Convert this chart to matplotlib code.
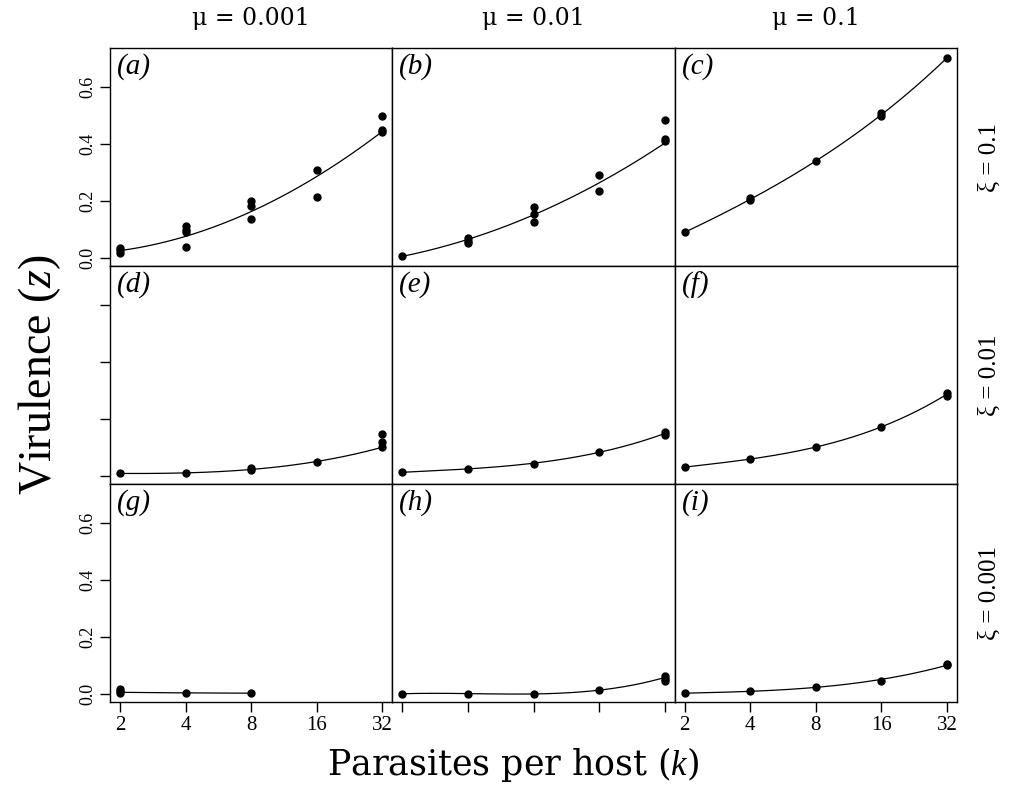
import matplotlib
matplotlib.use('Agg')
import matplotlib.pyplot as plt
import numpy as np

# parasites per host
k_vals = [2, 4, 8, 16, 32]

a_k = [2, 2, 2, 4, 4, 4, 4, 8, 8, 8, 16, 16, 32, 32, 32]
a_z = [0.035, 0.028, 0.018, 0.112, 0.098, 0.089, 0.036, 0.200, 0.180, 0.137, 0.308, 0.213, 0.499, 0.447, 0.441]
a_fit = [0.025, 0.075, 0.162, 0.285, 0.443]

b_k = [2, 4, 4, 4, 8, 8, 8, 16, 16, 32, 32, 32]
b_z = [0.005, 0.069, 0.060, 0.052, 0.178, 0.154, 0.125, 0.289, 0.233, 0.484, 0.416, 0.408]
b_fit = [0.005, 0.064, 0.151, 0.262, 0.402]

c_k = [2, 4, 4, 8, 16, 16, 32]
c_z = [0.089, 0.209, 0.204, 0.338, 0.508, 0.498, 0.701]
c_fit = [0.089, 0.206, 0.338, 0.503, 0.701]

d_k = [2, 4, 8, 8, 16, 32, 32, 32]
d_z = [0.008, 0.011, 0.027, 0.019, 0.048, 0.146, 0.120, 0.100]
d_fit = [0.008, 0.010, 0.022, 0.050, 0.100]

e_k = [2, 4, 8, 16, 32, 32]
e_z = [0.012, 0.024, 0.042, 0.082, 0.152, 0.144]
e_fit = [0.012, 0.024, 0.044, 0.082, 0.148]

f_k = [2, 4, 8, 16, 32, 32]
f_z = [0.030, 0.059, 0.100, 0.170, 0.292, 0.281]
f_fit = [0.030, 0.059, 0.100, 0.172, 0.286]

g_k = [2, 2, 2, 4, 8]
g_z = [0.017, 0.008, 0.002, 0.003, 0.002]
g_fit = [0.005, 0.003, 0.002]

h_k = [2, 4, 8, 16, 32, 32, 32]
h_z = [0.0, 0.0, 0.0, 0.013, 0.061, 0.052, 0.046]
h_fit = [0.0, 0.0, 0.0, 0.012, 0.057]

i_k = [2, 4, 8, 16, 32, 32]
i_z = [0.002, 0.009, 0.023, 0.046, 0.104, 0.100]
i_fit = [0.002, 0.008, 0.023, 0.050, 0.100]

mu_labels = ['\u03bc = 0.001', '\u03bc = 0.01', '\u03bc = 0.1']
xi_labels = ['\u03be = 0.1', '\u03be = 0.01', '\u03be = 0.001']
y_ticks = [0.0, 0.2, 0.4, 0.6]

panels = [
    [('a', a_k, a_z, a_fit), ('b', b_k, b_z, b_fit), ('c', c_k, c_z, c_fit)],
    [('d', d_k, d_z, d_fit), ('e', e_k, e_z, e_fit), ('f', f_k, f_z, f_fit)],
    [('g', g_k, g_z, g_fit), ('h', h_k, h_z, h_fit), ('i', i_k, i_z, i_fit)],
]

plt.rcParams['font.family'] = 'serif'
plt.rcParams['font.serif'] = ['Liberation Serif', 'DejaVu Serif']
plt.rcParams['mathtext.fontset'] = 'custom'
plt.rcParams['mathtext.rm'] = 'Liberation Serif'
plt.rcParams['mathtext.it'] = 'Liberation Serif:italic'

W, H = 1021, 786
fig = plt.figure(figsize=(W / 100, H / 100), dpi=100)

left, right, top, bottom = 110, 957, 48, 702
cw = (right - left) / 3
rh = (bottom - top) / 3

xlim = (2 * 2 ** -0.153, 32 * 2 ** 0.153)
ylim = (-0.029, 0.736)

for r in range(3):
    for c in range(3):
        name, kx, kz, fit = panels[r][c]
        x0 = left + c * cw
        y0 = top + (r + 1) * rh
        ax = fig.add_axes([x0 / W, 1 - y0 / H, cw / W, rh / H])
        ax.set_xscale('log', base=2)
        ax.set_xlim(*xlim)
        ax.set_ylim(*ylim)

        kf = np.array(k_vals[:len(fit)], dtype=float)
        lk = np.log2(kf)
        coef = np.polyfit(lk, fit, min(3, len(fit) - 1))
        xs = np.linspace(lk[0], lk[-1], 200)
        ax.plot(2 ** xs, np.polyval(coef, xs), color='black', lw=0.9)
        ax.plot(kx, kz, 'o', color='black', ms=5, mec='black')

        ax.text(0.025, 0.975, '(%s)' % name, transform=ax.transAxes,
                ha='left', va='top', fontsize=21, style='italic')

        for s in ax.spines.values():
            s.set_linewidth(1.0)

        ax.xaxis.set_minor_locator(matplotlib.ticker.NullLocator())
        if r == 2:
            ax.set_xticks(k_vals)
            if c != 1:
                ax.set_xticklabels([str(v) for v in k_vals])
            else:
                ax.set_xticklabels([])
            ax.tick_params(axis='x', direction='out', length=7, width=1,
                           labelsize=15, pad=3)
        else:
            ax.set_xticks([])

        if c == 0:
            ax.set_yticks(y_ticks)
            if r != 1:
                ax.set_yticklabels(['%.1f' % v for v in y_ticks],
                                   rotation=90, va='center')
            else:
                ax.set_yticklabels([])
            ax.tick_params(axis='y', direction='out', length=7, width=1,
                           labelsize=13, pad=3)
        else:
            ax.set_yticks([])

        if r == 0:
            ax.text(0.5, 1.0 + 30 / rh, mu_labels[c], transform=ax.transAxes,
                    ha='center', va='center', fontsize=17, family='DejaVu Serif')
        if c == 2:
            ax.text(1.0 + 33 / cw, 0.5, xi_labels[r], transform=ax.transAxes,
                    ha='center', va='center', fontsize=18, rotation=90)

fig.text(40 / W, 1 - 375 / H, 'Virulence ($\\it{z}$)', rotation=90,
         ha='center', va='center', fontsize=33)
fig.text(513 / W, 1 - 765 / H, 'Parasites per host ($\\it{k}$)',
         ha='center', va='center', fontsize=25, family='DejaVu Serif')

fig.savefig('out.png', dpi=100)
